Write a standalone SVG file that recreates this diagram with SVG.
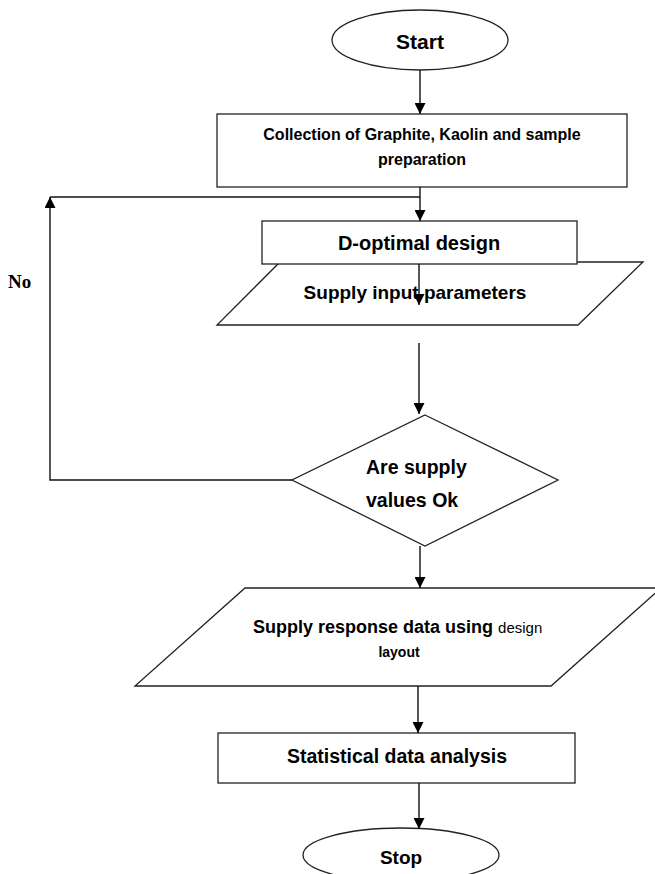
<svg xmlns="http://www.w3.org/2000/svg" width="655" height="874" viewBox="0 0 655 874">
<defs>
<marker id="ah" markerUnits="userSpaceOnUse" markerWidth="11" markerHeight="11" refX="11" refY="5.5" orient="auto">
<path d="M0,0 L11,5.5 L0,11 z" fill="#000"/>
</marker>
<style>
.sh{fill:#fff;stroke:#222;stroke-width:1.3}
.t{font-family:"Liberation Sans",Arial,sans-serif;font-weight:bold;fill:#000;text-anchor:middle}
.c{fill:none;stroke:#111;stroke-width:1.4}
</style>
</defs>
<rect width="655" height="874" fill="#fff"/>
<g id="start">
<ellipse class="sh" cx="420" cy="40" rx="88" ry="30"/>
<text class="t" x="420" y="49" font-size="21">Start</text>
</g>
<g id="collection">
<rect class="sh" x="217" y="114" width="410" height="73"/>
<text class="t" x="422" y="140" font-size="16">Collection of Graphite, Kaolin and sample</text>
<text class="t" x="422" y="165" font-size="16">preparation</text>
</g>
<g id="supply-input">
<polygon class="sh" points="280,262 643,262 578,325 217,325"/>
<text class="t" x="415" y="299" font-size="19">Supply input parameters</text>
</g>
<g id="d-optimal">
<rect class="sh" x="262" y="221" width="315" height="43"/>
<text class="t" x="419" y="250" font-size="20">D-optimal design</text>
</g>
<g id="decision">
<polygon class="sh" points="425,415 558,480 425,546 292,480"/>
<text class="t" x="366" y="474" font-size="19.5" text-anchor="start" style="text-anchor:start">Are supply</text>
<text class="t" x="366" y="507" font-size="19.5" style="text-anchor:start">values Ok</text>
</g>
<g id="supply-response">
<polygon class="sh" points="245,588 661,588 551,686 135,686"/>
<text class="t" x="253" y="633" font-size="18" style="text-anchor:start">Supply response data using <tspan font-size="15" font-weight="normal">design</tspan></text>
<text class="t" x="399" y="657" font-size="14">layout</text>
</g>
<g id="analysis">
<rect class="sh" x="218" y="733" width="357" height="50"/>
<text class="t" x="397" y="763" font-size="19.5">Statistical data analysis</text>
</g>
<g id="stop">
<ellipse class="sh" cx="401" cy="855" rx="98" ry="27"/>
<text class="t" x="401" y="864" font-size="19">Stop</text>
</g>
<text x="8" y="288" font-family="'Liberation Serif','Times New Roman',serif" font-weight="bold" font-size="19" fill="#000">No</text>
<g id="connectors">
<path class="c" d="M420,70 V114" marker-end="url(#ah)"/>
<path class="c" d="M420,187 V221" marker-end="url(#ah)"/>
<path class="c" d="M50,197 H420"/>
<path class="c" d="M292,480 H50 V197" marker-end="url(#ah)"/>
<path class="c" d="M419,264 V305" marker-end="url(#ah)"/>
<path class="c" d="M419,343 V414" marker-end="url(#ah)"/>
<path class="c" d="M420,546 V588" marker-end="url(#ah)"/>
<path class="c" d="M418,686 V733" marker-end="url(#ah)"/>
<path class="c" d="M419,783 V829" marker-end="url(#ah)"/>
</g>
</svg>
